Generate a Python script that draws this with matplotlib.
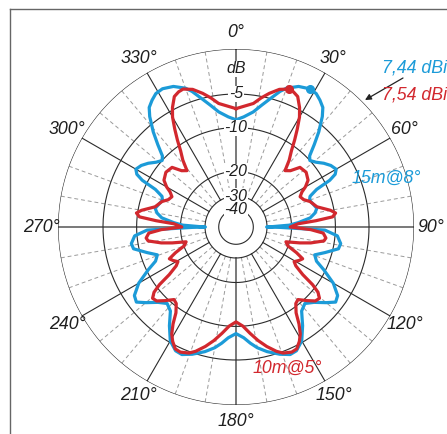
import numpy as np
import matplotlib
matplotlib.use('Agg')
import matplotlib.pyplot as plt
from matplotlib.lines import Line2D
from matplotlib import font_manager

names = {f.name for f in font_manager.fontManager.ttflist}
narrow = 'Liberation Sans Narrow' in names
plt.rcParams['font.family'] = (['Liberation Sans Narrow'] if narrow else []) + ['Liberation Sans', 'DejaVu Sans']
plt.rcParams['font.style'] = 'italic'
scale = 1.0 if narrow else 0.88

# half patterns (0..180 deg azimuth), pattern is symmetric about the boom
blue_deg = [0, 4, 8.5, 12, 15, 18, 20, 24, 28, 31, 33.5, 36, 38, 41, 43.5, 46, 48, 51, 54, 57, 60,
            62, 63.5, 65, 67.5, 70, 73, 77, 80, 83, 86, 88, 89.5, 90, 90.5, 92, 95, 99, 102, 106,
            109.5, 113, 116, 120, 124, 127, 130, 134, 138, 142, 146, 150, 154, 157, 161, 166,
            170, 173, 176, 180]
blue_db = [-8.7, -8.2, -7.3, -6.1, -5.0, -3.8, -3.2, -2.5, -2.2, -2.3, -2.7, -3.2, -4.1, -5.9,
           -7.7, -9.5, -10.0, -9.4, -8.5, -7.8, -7.4, -7.9, -9.1, -11.9, -13.7, -14.1, -13.7,
           -13.1, -13.7, -14.9, -18.0, -20.7, -27.6, -30.2, -24.0, -11.9, -9.6, -8.9, -9.1,
           -11.2, -13.0, -12.2, -10.3, -7.9, -6.4, -6.1, -7.1, -8.5, -9.4, -8.8, -6.9, -5.2,
           -4.4, -4.3, -4.8, -5.6, -6.4, -7.2, -8.1, -8.8]

red_deg = [0, 4, 8, 11, 14, 17.5, 21, 23, 25.3, 28, 30, 32, 34, 36, 38.5, 41, 44, 47, 52, 57, 60,
           62, 64.7, 68, 71, 76, 80, 82, 84, 85.5, 87, 90, 92, 94, 97, 99, 102, 104, 106.5, 110,
           113, 115.5, 118, 120.8, 123, 125.5, 127, 128.5, 130.5, 133, 136, 139.5, 142, 145,
           147, 149, 151, 153.5, 156, 159.5, 162, 165.6, 169, 172.5, 176, 180]
red_db = [-7.0, -6.6, -6.1, -5.2, -4.4, -3.6, -3.2, -3.3, -3.6, -4.7, -5.8, -7.4, -9.1, -10.9,
          -12.6, -14.9, -14.1, -12.2, -11.9, -12.5, -13.7, -14.9, -15.8, -15.3, -14.1, -13.0,
          -10.6, -9.8, -10.4, -13.7, -18.0, -20.4, -14.9, -12.2, -11.6, -11.9, -14.5, -17.1,
          -21.1, -20.1, -17.1, -15.1, -15.7, -16.6, -15.7, -13.3, -10.6, -9.1, -8.3, -8.5,
          -9.5, -10.7, -10.4, -9.1, -7.4, -6.1, -5.3, -4.6, -4.5, -4.8, -5.3, -6.3, -7.4, -8.7,
          -10.0, -10.8]

ring_db = [0, -5, -10, -20, -30, -40]
ring_labels = ['', '-5', '-10', '-20', '-30', '-40']
angle_ticks = list(range(0, 360, 30))

blue_peak_deg, red_peak_deg = 28, 21
blue_gain, red_gain = '7,44 dBi', '7,54 dBi'

BLUE = '#1c9bd8'
RED = '#d2282e'
INK = '#1f1f1f'


def arrl(db):
    # ARRL log-periodic radial scale, 0 dB at the outer ring
    return 0.89 ** (-np.asarray(db, dtype=float) / 2)


def full_pattern(deg, db):
    deg = np.asarray(deg, dtype=float)
    db = np.asarray(db, dtype=float)
    ang = np.concatenate([deg, 360 - deg[::-1][1:]])
    val = np.concatenate([db, db[::-1][1:]])
    return np.radians(ang), arrl(val)


fig = plt.figure(figsize=(4.47, 4.34), dpi=100)
ax = fig.add_axes([0.1298, 0.0668, 0.7964, 0.8203], projection='polar')
ax.set_theta_zero_location('N')
ax.set_theta_direction(-1)
ax.set_ylim(0, 1)
ax.axis('off')

# frame around the graphic
fig.add_artist(Line2D([10 / 447, 1], [1 - 9 / 434] * 2, color='#666666', lw=1.0))
fig.add_artist(Line2D([10 / 447] * 2, [0, 1 - 9 / 434], color='#666666', lw=1.0))

t = np.linspace(0, 2 * np.pi, 400)
r30, r40 = arrl(-30), arrl(-40)

# radial grid
for a in range(0, 360, 10):
    th = np.radians(a)
    if a % 90 == 0:
        r_in = r40 if a == 0 else r30
        ax.plot([th, th], [r_in, 1], color='#6e6e6e', lw=1.3, zorder=1)
    elif a % 30 == 0:
        ax.plot([th, th], [r30, 1], color='#2b2b2b', lw=0.8, zorder=1)
    else:
        ax.plot([th, th], [r30, 1], color='#9a9a9a', lw=0.7, ls=(0, (4, 3)), zorder=1)

for db in ring_db:
    ax.plot(t, np.full_like(t, arrl(db)), color='#2b2b2b', lw=0.8, zorder=1)

# patterns
th_b, r_b = full_pattern(blue_deg, blue_db)
th_r, r_r = full_pattern(red_deg, red_db)
ax.plot(th_b, r_b, color=BLUE, lw=2.3, zorder=3, solid_joinstyle='round')
ax.plot(th_r, r_r, color=RED, lw=2.3, zorder=4, solid_joinstyle='round')

bi = blue_deg.index(blue_peak_deg)
ri = red_deg.index(red_peak_deg)
ax.plot(np.radians(blue_deg[bi]), arrl(blue_db[bi]), 'o', color=BLUE, ms=5.5, zorder=5)
ax.plot(np.radians(red_deg[ri]), arrl(red_db[ri]), 'o', color=RED, ms=5.5, zorder=5)

# ring labels along the 0 deg axis
box = dict(facecolor='white', edgecolor='none', pad=0.4)
fs_ring = 13 * scale
for db, lab in zip(ring_db, ring_labels):
    if lab:
        ax.text(0, arrl(db), lab, ha='center', va='center', fontsize=fs_ring, color=INK,
                bbox=box, zorder=6)
ax.text(0, 0.889, 'dB', ha='center', va='center', fontsize=fs_ring, color=INK, bbox=box,
        zorder=6)

# azimuth labels
fs_ang = 14.5 * scale
for a in angle_ticks:
    ax.text(np.radians(a), 1.095, f'{a}°', ha='center', va='center', fontsize=fs_ang,
            color=INK)

# annotations
fig.text(447 / 447, 1 - 68 / 434, blue_gain, ha='right', va='center', fontsize=fs_ang,
         color=BLUE)
fig.text(447 / 447, 1 - 95 / 434, red_gain, ha='right', va='center', fontsize=fs_ang,
         color=RED)
ax.annotate('', xy=(365 / 447, 1 - 100 / 434), xycoords='figure fraction',
            xytext=(403 / 447, 1 - 78 / 434), textcoords='figure fraction',
            arrowprops=dict(arrowstyle='-|>', color='#222222', lw=0.9,
                            mutation_scale=9, shrinkA=0, shrinkB=0))
fig.text(352 / 447, 1 - 178 / 434, '15m@8°', ha='left', va='center', fontsize=fs_ang,
         color=BLUE)
fig.text(253 / 447, 1 - 368 / 434, '10m@5°', ha='left', va='center', fontsize=fs_ang,
         color=RED)

fig.savefig('out.png', dpi=100, facecolor='white')
